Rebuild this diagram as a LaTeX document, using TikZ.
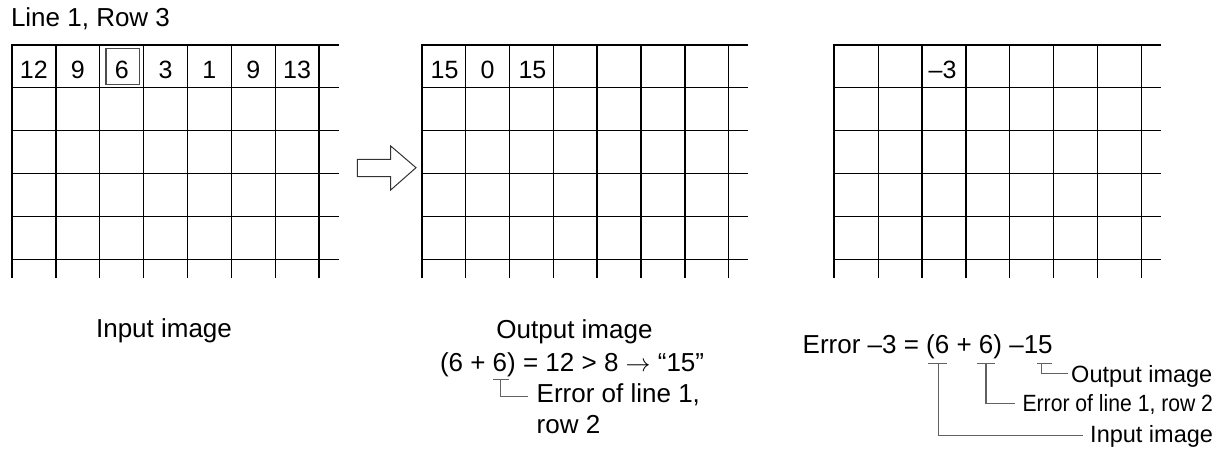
\documentclass[tikz,border=0pt]{standalone}
\usepackage{fontspec}
\setmainfont{Liberation Sans}
\usepackage{graphicx}
\newcommand{\gridat}[1]{%
  \foreach \i in {1,...,7} \draw[gridthin] ({#1+\i*43.86},44.7) -- ({#1+\i*43.86},278);
  \foreach \j in {1,...,5} \draw[gridthin] (#1,{44.7+\j*42.9}) -- ({#1+326.5},{44.7+\j*42.9});
  \draw[gridthick] (#1,278) -- (#1,44.7) -- ({#1+326.5},44.7);
}
\begin{document}
\begin{tikzpicture}[x=1pt,y=-1pt,
  lbl/.style={inner sep=0pt, outer sep=0pt, font=\fontsize{26}{30}\selectfont},
  cell/.style={inner sep=0pt, outer sep=0pt, font=\fontsize{25}{30}\selectfont, anchor=base},
  rlbl/.style={inner sep=0pt, outer sep=0pt, font=\fontsize{23.5}{28}\selectfont, anchor=base east},
  gridthin/.style={line width=1.3pt, line cap=butt},
  gridthick/.style={line width=2pt, line join=miter},
  lead/.style={line width=1.1pt, draw=black!62},
  hilite/.style={line width=1.3pt, draw=black!70},
  blockarrow/.style={line width=1pt, draw=black!80, fill=white, line join=miter}
]
\useasboundingbox (0,0) rectangle (1230,452);

% title
\node[lbl, anchor=base west] (title) at (11,27) {Line 1, Row 3};

% grids
\gridat{12}
\gridat{421.7}
\gridat{834.3}

% input grid values
\node[cell] (c11) at (33.9,78.7) {12};
\node[cell] (c12) at (77.8,78.7) {9};
\node[cell] (c13) at (121.7,78.7) {6};
\node[cell] (c14) at (165.5,78.7) {3};
\node[cell] (c15) at (209.4,78.7) {1};
\node[cell] (c16) at (253.2,78.7) {9};
\node[cell] (c17) at (297.1,78.7) {13};
\draw[hilite] (106,48.5) rectangle (139.3,84.5);

% output grid values
\node[cell] (d11) at (444.6,78.7) {15};
\node[cell] (d12) at (487.5,78.7) {0};
\node[cell] (d13) at (532.4,78.7) {15};

% error grid value
\node[cell] (e13) at (942.5,78.7) {–3};

% block arrow
\draw[blockarrow] (357.3,159.3) -- (390.7,159.3) -- (390.7,146) -- (416,167.7)
  -- (390.7,190) -- (390.7,176.7) -- (357.3,176.7) -- cycle;

% captions
\node[lbl, anchor=base] (inlbl) at (164,337.5) {Input image};
\node[lbl, anchor=base] (outlbl) at (574.5,338.8) {Output image};
\node[lbl, anchor=base west] (eq1) at (440,371.5) {(6 + 6) = 12 > 8 $\rightarrow$ “15”};
\node[lbl, anchor=base west] (er1) at (536.7,402.7) {Error of line 1,};
\node[lbl, anchor=base west] (er2) at (536.7,433.3) {row 2};

\coordinate (m6a) at (493.3,379.3);
\coordinate (m6b) at (509.3,379.3);
\coordinate (m6m) at (500.7,379.3);
\coordinate (m6e) at (527.5,396.2);
\draw[lead] (m6a) -- (m6b);
\draw[lead] (m6m) |- (m6e);

% right formula
\node[lbl, anchor=base west] (eq2) at (802.7,353.5) {Error –3 = (6 + 6) –15};
\node[rlbl] (ro) at (1212.3,382) {Output image};
\node[rlbl] (re) at (1213,411.7) {\scalebox{0.9}[1]{Error of line 1, row 2}};
\node[rlbl] (ri) at (1213,442.5) {Input image};

\coordinate (ua1) at (928.3,363.3);
\coordinate (ua2) at (946.7,363.3);
\coordinate (uam) at (938.3,363.3);
\coordinate (uae) at (1083.3,435.3);
\coordinate (ub1) at (976.7,363.3);
\coordinate (ub2) at (995,363.3);
\coordinate (ubm) at (986,363.3);
\coordinate (ube) at (1015,403.3);
\coordinate (uc1) at (1037.3,363.3);
\coordinate (uc2) at (1051.7,363.3);
\coordinate (ucm) at (1041.7,363.3);
\coordinate (uce) at (1068.3,373.3);
\draw[lead] (ua1) -- (ua2);
\draw[lead] (uam) |- (uae);
\draw[lead] (ub1) -- (ub2);
\draw[lead] (ubm) |- (ube);
\draw[lead] (uc1) -- (uc2);
\draw[lead] (ucm) |- (uce);
\end{tikzpicture}
\end{document}
